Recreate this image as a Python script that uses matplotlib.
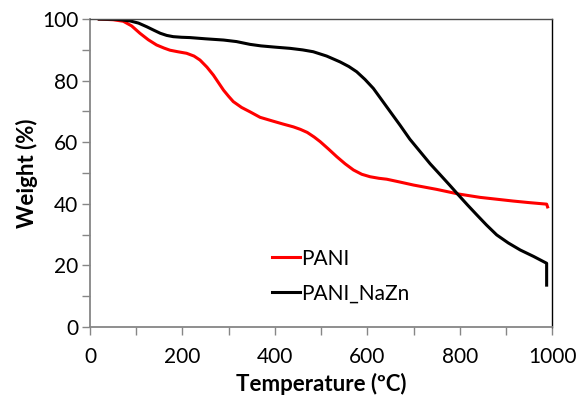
import matplotlib
matplotlib.use("Agg")
import matplotlib.pyplot as plt
from matplotlib.ticker import MultipleLocator

# Data
pani_T = [20, 50, 72, 90, 108, 126, 144, 160, 173, 190, 209, 225, 238, 253, 267, 280, 289, 300, 310, 328, 346, 368, 395,
          418, 440, 455, 470, 485, 498, 516, 534, 552, 570, 588, 606, 625, 642, 670, 700, 750, 797, 844, 880, 916, 950, 988, 990]
pani_W = [100, 99.8, 99.3, 97.8, 95.4, 93.3, 91.6, 90.6, 89.9, 89.4, 88.9, 88.0, 86.7, 84.4, 81.8, 78.9, 76.9, 74.9, 73.2, 71.3, 69.9, 68.1, 66.9,
          65.9, 65.0, 64.2, 63.2, 61.7, 60.2, 57.8, 55.3, 53.0, 51.0, 49.6, 48.8, 48.3, 48.0, 47.1, 46.1, 44.7, 43.2, 42.1, 41.5, 40.9, 40.4, 39.9, 39.0]

nazn_T = [20, 60, 87, 105, 123, 138, 152, 166, 180, 198, 216, 250, 289, 317, 346, 370, 400, 433, 460, 483, 512, 541, 560,
          577, 595, 613, 628, 642, 656, 671, 692, 714, 736, 758, 778, 797, 817, 837, 858, 880, 905, 931, 960, 988, 988]
nazn_W = [100, 99.9, 99.4, 98.7, 97.5, 96.4, 95.4, 94.7, 94.3, 94.1, 94.0, 93.6, 93.2, 92.7, 91.8, 91.3, 90.9, 90.5, 90.0, 89.4, 88.0, 86.1, 84.6,
          82.9, 80.4, 77.5, 74.4, 71.5, 68.6, 65.5, 61.0, 57.0, 53.0, 49.4, 46.1, 42.9, 39.6, 36.4, 33.1, 29.9, 27.3, 25.0, 22.9, 20.7, 13.6]

series_names = ["PANI", "PANI_NaZn"]
series_colors = ["#ff0000", "#000000"]

xticks = [0, 200, 400, 600, 800, 1000]
yticks = [0, 20, 40, 60, 80, 100]

plt.rcParams['font.family'] = ['Lato', 'DejaVu Sans']

fig = plt.figure(figsize=(5.77, 3.98), dpi=100)
ax = fig.add_axes([0.156, 0.1784, 0.801, 0.7736])

ax.plot(pani_T, pani_W, color=series_colors[0], lw=2.2, label=series_names[0], solid_joinstyle='round')
ax.plot(nazn_T, nazn_W, color=series_colors[1], lw=2.2, label=series_names[1], solid_joinstyle='round')

ax.set_xlim(0, 1000)
ax.set_ylim(0, 100)
ax.set_xticks(xticks)
ax.set_yticks(yticks)
ax.xaxis.set_minor_locator(MultipleLocator(100))
ax.yaxis.set_minor_locator(MultipleLocator(10))
ax.tick_params(axis='both', which='both', direction='out', length=5.5, width=1, color='#868686',
               labelsize=15, labelcolor='black')
ax.tick_params(axis='x', pad=9)
ax.tick_params(axis='y', pad=3)

for s in ['left', 'bottom']:
    ax.spines[s].set_color('#868686')
    ax.spines[s].set_linewidth(1.3)
ax.spines['top'].set_color('#4d4d4d')
ax.spines['right'].set_color('#000000')
ax.spines['top'].set_linewidth(1.0)
ax.spines['right'].set_linewidth(1.0)

ax.set_xlabel('Temperature (\u00baC)', fontsize=16, fontweight='bold', labelpad=4)
ax.set_ylabel('Weight (%)', fontsize=16, fontweight='bold', labelpad=3)

leg = ax.legend(loc='center left', bbox_to_anchor=(0.394, 0.165), bbox_transform=ax.transAxes,
                frameon=False, fontsize=15, borderpad=0, borderaxespad=0,
                handlelength=1.35, handletextpad=0.05, labelspacing=0.72)

fig.savefig('out.png', dpi=100)
